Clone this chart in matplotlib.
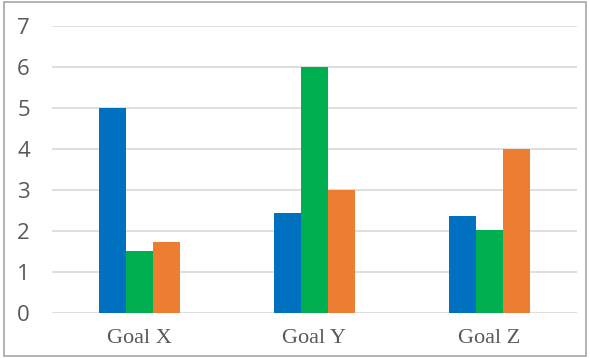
import matplotlib
matplotlib.use("Agg")
import matplotlib.pyplot as plt
import numpy as np
from matplotlib.patches import Rectangle

categories = ["Goal X", "Goal Y", "Goal Z"]
series_blue = [5.0, 2.44, 2.36]
series_green = [1.52, 6.0, 2.02]
series_orange = [1.73, 3.0, 4.0]
yticks = [0, 1, 2, 3, 4, 5, 6, 7]

colors = ["#0070C0", "#00B050", "#ED7D31"]

fig = plt.figure(figsize=(5.9, 3.58), dpi=100)
W, H = 590, 358
ax = fig.add_axes([52 / W, (H - 312.7) / H, (577 - 52) / W, (312.7 - 26.3) / H])

x = np.arange(len(categories))
bw = 0.155
for i, (vals, c) in enumerate(zip([series_blue, series_green, series_orange], colors)):
    ax.bar(x + (i - 1) * bw, vals, width=bw, color=c, zorder=3, linewidth=0)

ax.set_xlim(-0.5, 2.5)
ax.set_ylim(0, 7)
ax.set_yticks(yticks)
ax.set_yticklabels([str(t) for t in yticks], fontsize=16, color="#595959", family="Open Sans")
ax.set_xticks(x)
ax.set_xticklabels(categories, fontsize=16, color="#595959", family="Liberation Serif")
ax.tick_params(axis="y", length=0, pad=16)
ax.tick_params(axis="x", length=0, pad=12)
ax.grid(axis="y", color="#D9D9D9", linewidth=1.2, zorder=0)
for s in ax.spines.values():
    s.set_visible(False)

fig.patches.append(Rectangle((4 / W, 2 / H), (586 - 4) / W, (356 - 2) / H,
                             transform=fig.transFigure, fill=False,
                             edgecolor="#A6A6A6", linewidth=1.2))

fig.savefig("out.png", dpi=100)
